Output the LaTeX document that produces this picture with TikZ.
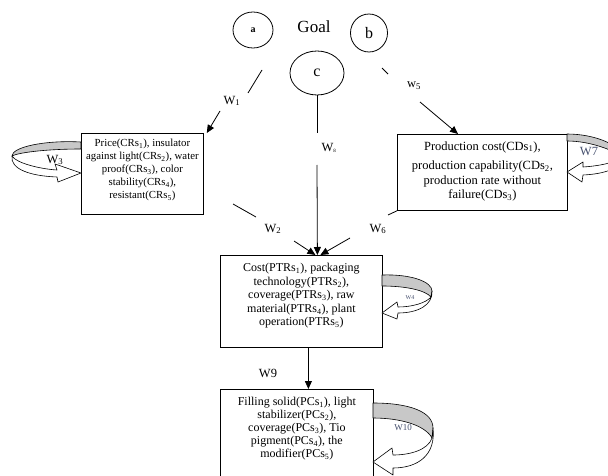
\documentclass[tikz,border=0pt]{standalone}
\usepackage{fontspec}
\setmainfont{Liberation Serif}
\usetikzlibrary{arrows.meta,shapes.geometric}
\definecolor{bandgray}{RGB}{200,200,200}
\definecolor{lblue}{RGB}{70,80,110}
\begin{document}
\begin{tikzpicture}[x=1pt,y=-1pt,
  ell/.style={draw, ellipse, inner sep=0pt, line width=0.8pt},
  box/.style={draw, rectangle, inner sep=0pt, line width=0.8pt, anchor=north west},
  conn/.style={line width=0.8pt},
  arr/.style={conn, -{Triangle[length=8pt,width=7pt]}},
  wl/.style={inner sep=0pt, font=\fontsize{12.5}{14}\selectfont},
  band/.style={fill=bandgray, draw=black, line width=0.6pt, line join=round},
  front/.style={fill=white, draw=black, line width=0.6pt, line join=round},
]
\path[use as bounding box] (0,0) rectangle (608,476);
\clip (0,0) rectangle (608,476);

% goal circles
\node[ell, minimum width=40, minimum height=36, font=\fontsize{10}{11}\selectfont\bfseries] (a) at (253,30) {a};
\node[font=\fontsize{17}{19}\selectfont] (goal) at (314,27) {Goal};
\node[ell, minimum width=37, minimum height=38, font=\fontsize{16}{18}\selectfont] (b) at (369,33) {b};
\node[ell, minimum width=54, minimum height=44, font=\fontsize{16}{18}\selectfont] (c) at (317,73) {c};

% boxes
\node[box] (cr) at (81,133) {\parbox[c][81pt][t]{122pt}{\centering\fontsize{10.8}{13}\selectfont\vspace*{6pt}Price(CRs\textsubscript{1}), insulator\\ against light(CRs\textsubscript{2}), water\\ proof(CRs\textsubscript{3}), color\\ stability(CRs\textsubscript{4}),\\ resistant(CRs\textsubscript{5})\par}};
\node[box] (cd) at (397,134) {\parbox[c][76pt][t]{170pt}{\centering\fontsize{12.5}{14.5}\selectfont\vspace*{7pt}Production cost(CDs\textsubscript{1}),\\[5pt] production capability(CDs\textsubscript{2},\\ production rate without\\ failure(CDs\textsubscript{3})\par}};
\node[box] (ptr) at (220,255) {\parbox[c][92pt][t]{162pt}{\centering\fontsize{12}{13.5}\selectfont\vspace*{8pt}Cost(PTRs\textsubscript{1}), packaging\\ technology(PTRs\textsubscript{2}),\\ coverage(PTRs\textsubscript{3}), raw\\ material(PTRs\textsubscript{4}), plant\\ operation(PTRs\textsubscript{5})\par}};
\node[box] (pc) at (220,389) {\parbox[c][100pt][t]{153pt}{\centering\fontsize{12}{13}\selectfont\vspace*{8pt}Filling solid(PCs\textsubscript{1}), light\\ stabilizer(PCs\textsubscript{2}),\\ coverage(PCs\textsubscript{3}), Tio\\ pigment(PCs\textsubscript{4}), the\\ modifier(PCs\textsubscript{5})\par}};

% a -> cr
\coordinate (a1) at (262,70); \coordinate (a2) at (248,93); \coordinate (a3) at (220,111);
\node[wl] (w1) at (232,101) {W\textsubscript{1}};
\draw[conn] (a1) -- (a2);
\draw[arr] (a3) -- ([xshift=3]cr.north east);

% b -> cd
\coordinate (b1) at (382,68); \coordinate (b2) at (388,74); \coordinate (b3) at (420,102);
\node[wl] (w5) at (414,86) {w\textsubscript{5}};
\draw[conn] (b1) -- (b2);
\draw[arr] (b3) -- ([xshift=61]cd.north west);

% c -> ptr
\coordinate (c1) at (317,133); \coordinate (c2) at (317,165);
\node[wl] (w8) at (329,148) {W\textsubscript{\tiny 8}};
\draw[conn] (c) -- (c1);
\draw[arr] (c2) -- ([xshift=16]ptr.north);

% cr -> ptr
\coordinate (d1) at (233,204); \coordinate (d2) at (256,217); \coordinate (d3) at (294,241);
\node[wl] (w2) at (273,229) {W\textsubscript{2}};
\draw[conn] (d1) -- (d2);
\draw[arr] (d3) -- ([xshift=14]ptr.north);

% cd -> ptr
\coordinate (e1) at (388,215); \coordinate (e2) at (350,238);
\node[wl] (w6) at (378,229) {W\textsubscript{6}};
\draw[conn] (cd.south west) -- (e1);
\draw[arr] (e2) -- ([xshift=19]ptr.north);

% ptr -> pc
\draw[arr] ([xshift=7]ptr.south) -- ([xshift=7]ptr.south |- pc.north);
\node[wl] (w9) at (268,373) {W9};

% self loops
% W3 (left of cr)
\draw[band] (81,142) .. controls (45,140) and (12,147) .. (12,156) .. controls (20,152) and (50,149) .. (81,149) -- cycle;
\draw[front] (12,156) .. controls (16,163) and (40,169) .. (57,170) -- (55,164) -- (81,173) -- (58,182) -- (57,177) .. controls (30,176) and (10,169) .. (12,156) -- cycle;
\node[wl] (w3) at (55,160) {W\textsubscript{3}};

% W7 (right of cd)
\draw[band] (567,134) .. controls (595,134) and (620,145) .. (622,156) .. controls (612,150) and (590,141) .. (567,141) -- cycle;
\draw[front] (621,156) .. controls (617,163) and (598,166) .. (583,167) -- (583,162) -- (567,172) -- (582,182) -- (583,175) .. controls (605,174) and (623,168) .. (622,156) -- cycle;
\node[wl, text=lblue] (w7) at (589,152) {W7};

% w4 (right of ptr)
\draw[band] (382,275) .. controls (412,274) and (432,282) .. (432,291) -- (431,297) .. controls (425,290) and (405,286) .. (382,286) -- cycle;
\draw[front] (431,297) .. controls (426,303) and (412,307) .. (398,307) -- (397,302) -- (382,313) -- (397,319) -- (398,313) .. controls (418,313) and (433,305) .. (432,291) -- cycle;
\node[wl, text=lblue, font=\fontsize{6}{7}\selectfont] (w4) at (410,298) {W4};

% W10 (right of pc)
\draw[band] (373,403) .. controls (410,403) and (433,412) .. (433,428) -- (432,438) .. controls (425,425) and (400,418) .. (373,418) -- cycle;
\draw[front] (432,438) .. controls (428,450) and (410,455) .. (393,455) -- (392,448) -- (373,462) -- (393,475) -- (393,468) .. controls (418,468) and (436,455) .. (433,428) -- cycle;
\node[wl, text=lblue, font=\fontsize{9}{10}\selectfont] (w10) at (403,428) {W10};
\end{tikzpicture}
\end{document}
